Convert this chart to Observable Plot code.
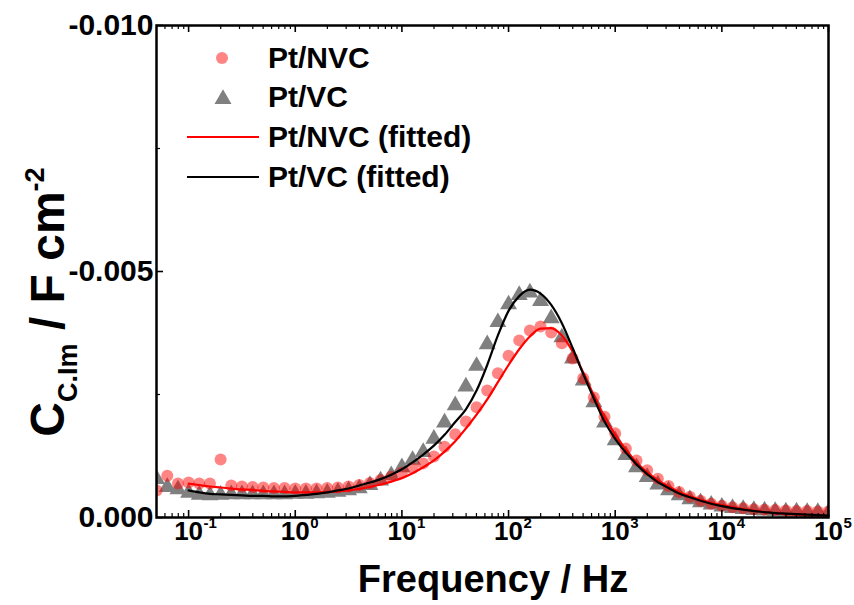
<!DOCTYPE html>
<html>
<head>
<meta charset="utf-8">
<script src="https://cdn.jsdelivr.net/npm/d3@7"></script>
<script src="https://cdn.jsdelivr.net/npm/@observablehq/plot@0.6"></script>
<style>
  html, body { margin: 0; padding: 0; background: #fff; }
  #chart svg { display: block; }
</style>
</head>
<body>
<div id="chart"></div>
<script>
// Frequencies (Hz), high to low
const freq = [100000, 79433, 63096, 50119, 39811, 31623, 25119, 19953, 15849, 12589,
  10000, 7943, 6310, 5012, 3981, 3162, 2512, 1995, 1585, 1259,
  1000, 794.3, 631.0, 501.2, 398.1, 316.2, 251.2, 199.5, 158.5, 125.9,
  100, 79.43, 63.10, 50.12, 39.81, 31.62, 25.12, 19.95, 15.85, 12.59,
  10, 7.943, 6.310, 5.012, 3.981, 3.162, 2.512, 1.995, 1.585, 1.259,
  1, 0.7943, 0.6310, 0.5012, 0.3981, 0.3162, 0.2512, 0.1995, 0.1585, 0.1259,
  0.1, 0.07943, 0.06310, 0.05012];

// Measured C_C,Im (F cm^-2)
const ptVC = [-0.00010, -0.00011, -0.00011, -0.00012, -0.00012, -0.00013, -0.00014, -0.00015, -0.00017, -0.00019,
  -0.00022, -0.00026, -0.00031, -0.00037, -0.00045, -0.00055, -0.00067, -0.00082, -0.00102, -0.00127,
  -0.00157, -0.00193, -0.00234, -0.00278, -0.00323, -0.00366, -0.00405, -0.00440, -0.00457, -0.00452,
  -0.00433, -0.00397, -0.00352, -0.00308, -0.00266, -0.00228, -0.00193, -0.00160, -0.00133, -0.00117,
  -0.00102, -0.00086, -0.00075, -0.00066, -0.00059, -0.00055, -0.00052, -0.00050, -0.00049, -0.00048,
  -0.00048, -0.00047, -0.00047, -0.00047, -0.00047, -0.00047, -0.00047, -0.00046, -0.00045, -0.00046,
  -0.00050, -0.00057, -0.00062, -0.00078];

const ptNVC = [-0.00012, -0.00012, -0.00013, -0.00013, -0.00014, -0.00015, -0.00016, -0.00017, -0.00019, -0.00021,
  -0.00024, -0.00028, -0.00034, -0.00042, -0.00052, -0.00064, -0.00079, -0.00096, -0.00116, -0.00140,
  -0.00171, -0.00205, -0.00244, -0.00283, -0.00323, -0.00354, -0.00376, -0.00388, -0.00380, -0.00360,
  -0.00329, -0.00293, -0.00258, -0.00224, -0.00195, -0.00169, -0.00144, -0.00124, -0.00110, -0.00100,
  -0.00091, -0.00083, -0.00076, -0.00070, -0.00066, -0.00063, -0.00061, -0.00060, -0.00059, -0.00059,
  -0.00059, -0.00060, -0.00060, -0.00061, -0.00062, -0.00063, -0.00065, -0.00118, -0.00069, -0.00069,
  -0.00071, -0.00069, -0.00085, -0.00055];

// Fitted curves (same frequencies, 1e5 Hz down to 0.1 Hz)
const fitVC = [-0.00004, -0.00005, -0.00006, -0.00007, -0.00008, -0.00009, -0.00011, -0.00013, -0.00016, -0.00019,
  -0.00023, -0.00028, -0.00034, -0.00041, -0.00049, -0.00060, -0.00072, -0.00088, -0.00108, -0.00132,
  -0.00160, -0.00195, -0.00242, -0.00292, -0.00345, -0.00395, -0.00432, -0.00455, -0.00463, -0.00450,
  -0.00420, -0.00370, -0.00310, -0.00258, -0.00220, -0.00194, -0.00168, -0.00146, -0.00128, -0.00112,
  -0.00098, -0.00087, -0.00078, -0.00071, -0.00065, -0.00059, -0.00055, -0.00051, -0.00048, -0.00046,
  -0.00044, -0.00043, -0.00043, -0.00044, -0.00044, -0.00045, -0.00046, -0.00047, -0.00048, -0.00051,
  -0.00055];

const fitNVC = [-0.00003, -0.00004, -0.00005, -0.00006, -0.00007, -0.00009, -0.00011, -0.00014, -0.00017, -0.00021,
  -0.00025, -0.00030, -0.00036, -0.00043, -0.00052, -0.00063, -0.00076, -0.00092, -0.00112, -0.00138,
  -0.00168, -0.00205, -0.00248, -0.00295, -0.00338, -0.00370, -0.00385, -0.00384, -0.00368, -0.00342,
  -0.00310, -0.00275, -0.00240, -0.00209, -0.00181, -0.00155, -0.00134, -0.00116, -0.00102, -0.00090,
  -0.00080, -0.00073, -0.00067, -0.00062, -0.00058, -0.00055, -0.00053, -0.00052, -0.00051, -0.00051,
  -0.00051, -0.00052, -0.00053, -0.00054, -0.00056, -0.00057, -0.00059, -0.00061, -0.00063, -0.00066,
  -0.00069];

const seriesNames = ["Pt/NVC", "Pt/VC", "Pt/NVC (fitted)", "Pt/VC (fitted)"];
const xTickExponents = [-1, 0, 1, 2, 3, 4, 5];
const xMinorTicks = [0.06, 0.07, 0.08, 0.09, 0.2, 0.3, 0.4, 0.5, 0.6, 0.7, 0.8, 0.9,
  2, 3, 4, 5, 6, 7, 8, 9, 20, 30, 40, 50, 60, 70, 80, 90,
  200, 300, 400, 500, 600, 700, 800, 900, 2000, 3000, 4000, 5000, 6000, 7000, 8000, 9000,
  20000, 30000, 40000, 50000, 60000, 70000, 80000, 90000];
const yMajorTicks = [0, -0.005, -0.010];
const yTickLabels = ["0.000", "-0.005", "-0.010"];
const yMinorTicks = [-0.0025, -0.0075];

const fitFreq = freq.slice(0, fitVC.length);
const vcRows = freq.map((f, i) => ({f, v: ptVC[i]}));
const nvcRows = freq.map((f, i) => ({f, v: ptNVC[i]}));
const vcFitRows = fitFreq.map((f, i) => ({f, v: fitVC[i]}));
const nvcFitRows = fitFreq.map((f, i) => ({f, v: fitNVC[i]}));

const W = 854, H = 605;
const mL = 156, mR = 26, mT = 25, mB = 88;
const frameH = H - mT - mB, frameW = W - mL - mR;
const FONT = "'Liberation Sans', Arial, Helvetica, sans-serif";

const plot = Plot.plot({
  width: W,
  height: H,
  marginLeft: mL, marginRight: mR, marginTop: mT, marginBottom: mB,
  style: {fontFamily: FONT, background: "#fff", overflow: "visible"},
  x: {type: "log", domain: [0.05, 100000], axis: null},
  y: {domain: [0, -0.010], axis: null},
  marks: [
    Plot.dot(vcRows, {x: "f", y: "v", symbol: "triangle", r: 6.3, fill: "#808080", stroke: "none", clip: true}),
    Plot.dot(nvcRows, {x: "f", y: "v", symbol: "circle", r: 6, fill: "#ff0000", fillOpacity: 0.48, stroke: "none", clip: true}),
    Plot.line(nvcFitRows, {x: "f", y: "v", stroke: "#ff0000", strokeWidth: 2.2, curve: "monotone-x"}),
    Plot.line(vcFitRows, {x: "f", y: "v", stroke: "#000000", strokeWidth: 2.2, curve: "monotone-x"}),
    Plot.ruleX(xTickExponents.map(e => 10 ** e), {stroke: "#000", strokeWidth: 1.6, insetTop: frameH - 7}),
    Plot.ruleX(xMinorTicks, {stroke: "#000", strokeWidth: 1.2, insetTop: frameH - 4}),
    Plot.ruleX(xTickExponents.map(e => 10 ** e), {stroke: "#000", strokeWidth: 1.6, insetBottom: frameH - 7}),
    Plot.ruleX(xMinorTicks, {stroke: "#000", strokeWidth: 1.2, insetBottom: frameH - 4}),
    Plot.ruleY(yMajorTicks, {stroke: "#000", strokeWidth: 1.6, insetRight: frameW - 7}),
    Plot.ruleY(yMinorTicks, {stroke: "#000", strokeWidth: 1.2, insetRight: frameW - 4}),
    Plot.frame({stroke: "#000", strokeWidth: 2.5}),
    Plot.text(yMajorTicks, {y: d => d, text: (d, i) => yTickLabels[i], frameAnchor: "left", textAnchor: "end",
      dx: -3, fontSize: 30, fontWeight: "bold", fill: "#000"}),
    Plot.text(xTickExponents, {x: e => 10 ** e, text: () => "10", frameAnchor: "bottom", dy: 22,
      fontSize: 26, fontWeight: "bold", fill: "#000"}),
    Plot.text(xTickExponents, {x: e => 10 ** e, text: e => String(e), frameAnchor: "bottom", dy: 10, dx: 15,
      textAnchor: "start", fontSize: 15, fontWeight: "bold", fill: "#000"})
  ]
});

document.getElementById("chart").appendChild(plot);

const svg = d3.select(plot);
svg.append("text")
  .attr("x", 493).attr("y", 592)
  .attr("text-anchor", "middle")
  .attr("font-family", FONT).attr("font-weight", "bold").attr("font-size", 38)
  .text("Frequency / Hz");

const yt = svg.append("text")
  .attr("transform", "translate(64,302) rotate(-90)")
  .attr("text-anchor", "middle")
  .attr("font-family", FONT).attr("font-weight", "bold").attr("font-size", 48);
yt.append("tspan").text("C");
yt.append("tspan").attr("font-size", 27).attr("dy", 13).text("C.Im");
yt.append("tspan").attr("dy", -13).text(" / F cm");
yt.append("tspan").attr("font-size", 27).attr("dy", -20).text("-2");

const lg = svg.append("g").attr("font-family", FONT).attr("font-weight", "bold").attr("font-size", 30)
  .attr("text-anchor", "start");
lg.append("circle").attr("cx", 222).attr("cy", 58).attr("r", 6).attr("fill", "#ff0000").attr("fill-opacity", 0.48);
lg.append("path").attr("transform", "translate(223,99)")
  .attr("d", d3.symbol(d3.symbolTriangle, 125)()).attr("fill", "#808080");
lg.append("line").attr("x1", 187).attr("x2", 259).attr("y1", 137).attr("y2", 137).attr("stroke", "#ff0000").attr("stroke-width", 2.2);
lg.append("line").attr("x1", 187).attr("x2", 259).attr("y1", 177).attr("y2", 177).attr("stroke", "#000").attr("stroke-width", 2.2);
const ly = [68, 107, 147, 187];
seriesNames.forEach((n, i) => {
  lg.append("text").attr("x", 268).attr("y", ly[i]).attr("text-anchor", "start").text(n);
});
</script>
</body>
</html>
